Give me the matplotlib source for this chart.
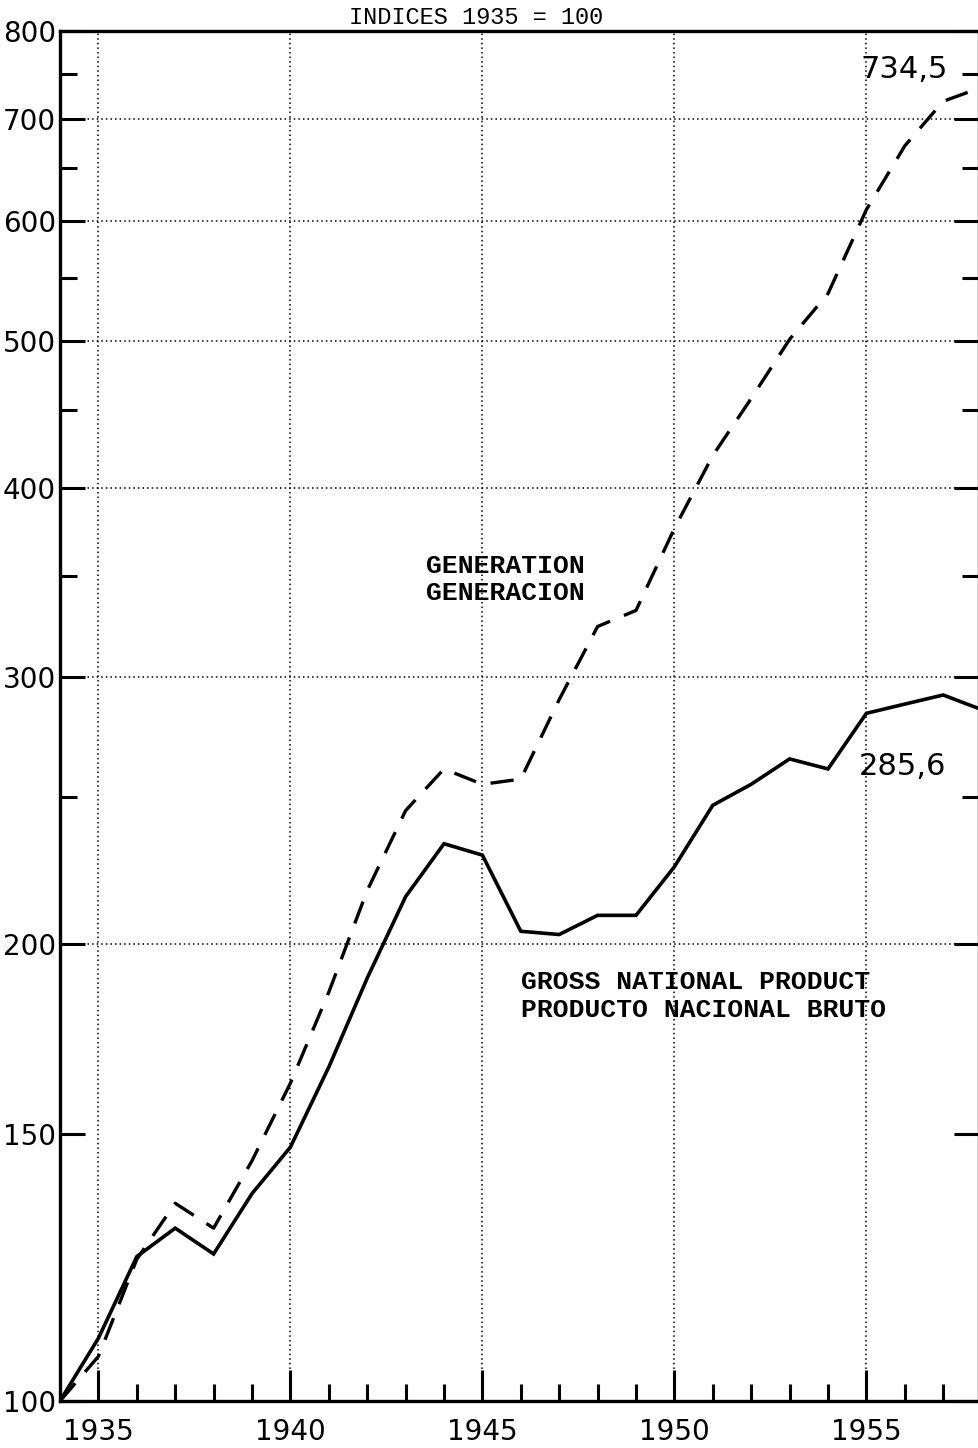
import matplotlib
matplotlib.use("Agg")
import matplotlib.pyplot as plt
from matplotlib.ticker import FixedLocator, NullFormatter, FixedFormatter

# ---- data ----
years = [1934, 1935, 1936, 1937, 1938, 1939, 1940, 1941, 1942, 1943, 1944, 1945,
         1946, 1947, 1948, 1949, 1950, 1951, 1952, 1953, 1954, 1955, 1956, 1957, 1958]
gnp = [100, 110, 124.5, 130, 125, 137, 147, 166, 190, 215, 233, 229,
       204, 203, 209, 209, 225, 247, 255, 265, 261, 284, 288, 292, 285.6]
generation = [100, 107, 124, 135, 130, 144, 162, 186, 217, 245, 261, 255,
              257, 290, 324, 332, 376, 420, 458, 501, 537, 610, 672, 719, 734.5]

y_major = [100, 150, 200, 300, 400, 500, 600, 700, 800]
y_minor = [250, 350, 450, 550, 650, 750]
y_grid = [200, 300, 400, 500, 600, 700]
x_major = [1935, 1940, 1945, 1950, 1955]
x_minor = [1936, 1937, 1938, 1939, 1941, 1942, 1943, 1944, 1946, 1947, 1948,
           1949, 1951, 1952, 1953, 1954, 1956, 1957]
title_text = "INDICES 1935 = 100"
gen_label = "GENERATION\nGENERACION"
gnp_label = "GROSS NATIONAL PRODUCT\nPRODUCTO NACIONAL BRUTO"
gen_last = "734,5"
gnp_last = "285,6"

W, H = 979, 1448
fig = plt.figure(figsize=(W / 100, H / 100), dpi=100)
fig.patch.set_facecolor("white")

left_px, right_px, top_px, bot_px = 60, 979, 31, 1401
ax = fig.add_axes([left_px / W, (H - bot_px) / H,
                   (right_px - left_px) / W, (bot_px - top_px) / H])
ax.set_yscale("log")
ax.set_ylim(100, 800)
ax.set_xlim(1934, 1934 + (right_px - left_px) / 38.4)

# grid (dotted)
for g in y_grid:
    ax.axhline(g, color="black", lw=1.1, ls=(0, (1, 2)), zorder=1)
for g in x_major:
    ax.axvline(g, color="black", lw=1.1, ls=(0, (1, 2)), zorder=1)

# lines
ax.plot(years, gnp, color="black", lw=2.6, solid_joinstyle="miter", zorder=3)
ax.plot(years, generation, color="black", lw=2.4, dashes=(7, 4.5), zorder=3)

# ticks
ax.yaxis.set_major_locator(FixedLocator(y_major))
ax.yaxis.set_minor_locator(FixedLocator(y_minor))
ax.yaxis.set_major_formatter(FixedFormatter([str(v) for v in y_major]))
ax.yaxis.set_minor_formatter(NullFormatter())
ax.xaxis.set_major_locator(FixedLocator(x_major))
ax.xaxis.set_minor_locator(FixedLocator(x_minor))
ax.xaxis.set_major_formatter(FixedFormatter([str(v) for v in x_major]))

ax.tick_params(axis="y", which="major", direction="in", length=18, width=2.2,
               left=True, right=True, labelsize=20, pad=3)
ax.tick_params(axis="y", which="minor", direction="in", length=12, width=2.2,
               left=True, right=True)
ax.tick_params(axis="x", which="major", direction="in", length=22, width=2.2,
               bottom=True, top=False, labelsize=20, pad=12)
ax.tick_params(axis="x", which="minor", direction="in", length=12, width=2.2,
               bottom=True, top=False)
for lab in ax.get_xticklabels() + ax.get_yticklabels():
    lab.set_fontfamily("DejaVu Sans")

for s in ax.spines.values():
    s.set_linewidth(2.4)
    s.set_color("black")

mono = "Liberation Mono"
ax.text(1943.53, 348, gen_label, family=mono, fontsize=19, fontweight="bold",
        ha="left", va="center", linespacing=1.2)
ax.text(1946.0, 185, gnp_label, family=mono, fontsize=19, fontweight="bold",
        ha="left", va="center", linespacing=1.2)
ax.text(1954.85, 755, gen_last, family="DejaVu Sans", fontsize=22,
        ha="left", va="center")
ax.text(1954.8, 262, gnp_last, family="DejaVu Sans", fontsize=22,
        ha="left", va="center")

fig.text(476 / W, (H - 24) / H, title_text, family=mono, fontsize=17,
         ha="center", va="baseline")

fig.savefig("out.png", dpi=100, facecolor="white")
